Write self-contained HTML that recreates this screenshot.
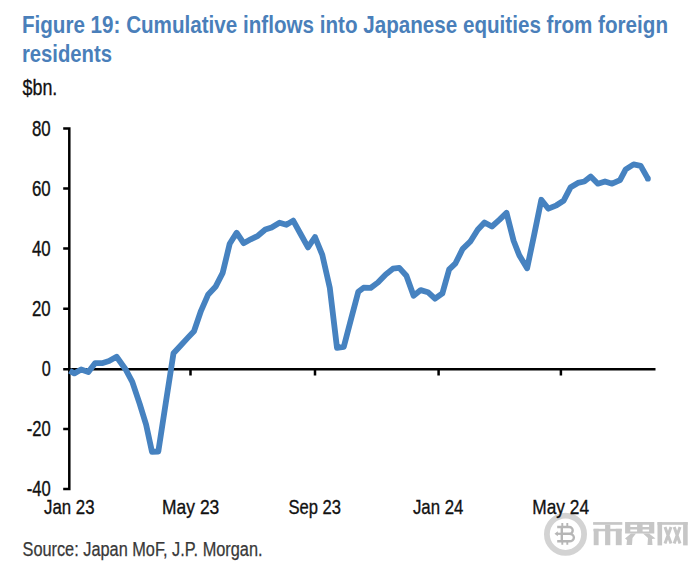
<!DOCTYPE html>
<html><head><meta charset="utf-8"><style>
html,body{margin:0;padding:0;background:#fff;}
body{width:700px;height:569px;overflow:hidden;}
svg{display:block;}
text{font-family:"Liberation Sans",sans-serif;}
</style></head><body>
<svg width="700" height="569" viewBox="0 0 700 569">
<rect width="700" height="569" fill="#fff"/>
<!-- watermark -->
<g opacity="1">
<circle cx="565.5" cy="534.2" r="18.6" fill="none" stroke="#d3d3d3" stroke-width="5.8"/>
<g fill="none" stroke="#b6b6b6">
<path stroke-width="2.4" d="M557.2,527 H569.3 A3.4,3.4 0 0 1 569.3,533.8 H561.5 M569.3,533.8 A4.6,3.75 0 0 1 569.3,541.3 H557.2 M561.8,527 V541.3"/>
<path stroke-width="1.9" d="M562.3,523 V527 M567.3,523 V527 M562.3,541.3 V544.8 M567.3,541.3 V544.8"/>
<path stroke-width="2.2" d="M556.5,533.8 H562"/>
</g>
<path d="M554.5,533.8 L557.8,531.3 V536.3 Z" fill="#b6b6b6"/>
<g fill="#c6c6c6">
<rect x="593.1" y="522.1" width="29.2" height="2.7"/>
<rect x="593.5" y="528.8" width="28.2" height="2.5"/>
<rect x="593.7" y="528.8" width="4.9" height="16.4"/>
<rect x="605.1" y="524.8" width="5.2" height="20.4"/>
<rect x="615.8" y="528.8" width="5.9" height="16.4"/>
<path d="M625.1,522.1 H654.3 V533.5 H625.1 Z M630.3,524.8 V527 H637.1 V524.8 Z M642.6,524.8 V527 H649.1 V524.8 Z M630.3,529.5 V531.6 H637.1 V529.5 Z M642.6,529.5 V531.6 H649.1 V529.5 Z" fill-rule="evenodd"/>
<path d="M631,533.5 L625,538.5 L627,540 L626.5,545 L632,545 L632.5,538 L636,533.5 Z"/>
<path d="M643,533.5 L648,538 L647.5,545 L652.5,545 L652,539 L655.5,538.5 L649,533.5 Z"/>
<rect x="657.5" y="522.1" width="4.6" height="23.3"/>
<rect x="657.5" y="522.1" width="30.2" height="2.7"/>
<rect x="683.1" y="522.1" width="4.6" height="23.3"/>
</g>
<g stroke="#c6c6c6" stroke-width="3">
<path d="M665,527 L671,543.5 M671,527 L665,543.5 M674.2,527 L680,543.5 M680,527 L674.2,543.5"/>
</g>
</g>
<g fill="#4A7FBA" font-weight="bold" font-size="23.4">
<text x="21.9" y="32.6" textLength="646.1" lengthAdjust="spacingAndGlyphs">Figure 19: Cumulative inflows into Japanese equities from foreign</text>
<text x="21.9" y="61.6" textLength="90.1" lengthAdjust="spacingAndGlyphs">residents</text>
</g>
<text x="22.5" y="94.6" font-size="21.5" fill="#111" stroke="#111" stroke-width="0.3" textLength="34.8" lengthAdjust="spacingAndGlyphs">$bn.</text>
<g fill="#111" font-size="21.6" text-anchor="end" stroke="#111" stroke-width="0.35" transform="translate(0.7,0)">
<text x="50" y="135.9" textLength="18.7" lengthAdjust="spacingAndGlyphs">80</text>
<text x="50" y="195.9" textLength="18.7" lengthAdjust="spacingAndGlyphs">60</text>
<text x="50" y="255.9" textLength="18.7" lengthAdjust="spacingAndGlyphs">40</text>
<text x="50" y="315.9" textLength="18.7" lengthAdjust="spacingAndGlyphs">20</text>
<text x="50" y="376.4" textLength="9" lengthAdjust="spacingAndGlyphs">0</text>
<text x="50" y="436.4" textLength="24" lengthAdjust="spacingAndGlyphs">-20</text>
<text x="50" y="496.4" textLength="24" lengthAdjust="spacingAndGlyphs">-40</text>
</g>
<g fill="#111" font-size="21" text-anchor="middle" stroke="#111" stroke-width="0.35">
<text x="69.3" y="514.3" textLength="50.5" lengthAdjust="spacingAndGlyphs">Jan 23</text>
<text x="190.7" y="514.3" textLength="57.2" lengthAdjust="spacingAndGlyphs">May 23</text>
<text x="314.7" y="514.3" textLength="52.5" lengthAdjust="spacingAndGlyphs">Sep 23</text>
<text x="438.2" y="514.3" textLength="50.5" lengthAdjust="spacingAndGlyphs">Jan 24</text>
<text x="560.7" y="514.3" textLength="56.8" lengthAdjust="spacingAndGlyphs">May 24</text>
</g>
<text x="22.5" y="556" font-size="19.5" fill="#383838" stroke="#383838" stroke-width="0.25" textLength="240" lengthAdjust="spacingAndGlyphs">Source: Japan MoF, J.P. Morgan.</text>
<g stroke="#000" stroke-width="2.5" fill="none">
<path d="M63.2,128.4 H69.3 V489 H63.2"/>
<path d="M63.2,188.4 H69.3 M63.2,248.6 H69.3 M63.2,308.8 H69.3 M63.2,369.2 H69.3 M63.2,429 H69.3"/>
<path d="M69.3,369.2 H655.5"/>
<path d="M190.5,369.2 V375.5 M315,369.2 V375.5 M438.6,369.2 V375.5 M560.9,369.2 V375.5"/>
</g>
<path d="M69.6,370.8 L74.3,373.4 L81.1,369.4 L88.4,372.0 L95.2,363.1 L102.0,363.2 L109.0,361.0 L116.6,356.7 L125.5,369.2 L132.3,381.8 L139.7,403.8 L146.1,424.6 L152.0,451.8 L158.3,451.5 L165.8,402.8 L173.5,353.3 L180.7,345.5 L187.7,337.9 L194.0,331.2 L201.0,310.8 L208.0,294.8 L215.5,286.8 L222.7,272.8 L229.7,243.8 L236.6,232.7 L243.6,243.2 L250.7,239.3 L257.9,235.8 L265.3,229.5 L271.6,227.4 L279.5,222.7 L286.4,224.8 L293.2,220.6 L300.6,234.0 L308.0,247.4 L315.0,237.0 L322.3,254.8 L329.8,287.8 L337.0,347.8 L343.8,346.8 L351.0,319.3 L358.3,291.8 L363.6,287.7 L370.7,287.9 L377.9,282.5 L385.7,274.4 L392.9,268.7 L399.3,267.9 L406.4,275.8 L413.6,295.8 L420.7,290.1 L427.9,292.2 L435.0,298.7 L442.4,293.4 L449.2,269.3 L455.5,263.3 L462.7,248.8 L470.2,241.7 L477.7,229.8 L484.5,222.5 L491.9,226.5 L499.3,219.8 L506.5,212.8 L513.6,240.8 L519.3,255.3 L527.1,268.3 L534.2,234.6 L541.3,199.8 L548.4,208.7 L556.5,205.3 L563.5,200.8 L570.7,187.2 L577.9,182.9 L584.3,181.5 L590.7,176.5 L597.9,183.7 L605.0,181.5 L612.1,183.7 L620.0,180.1 L625.7,169.4 L633.6,164.4 L640.7,165.8 L647.9,178.7" fill="none" stroke="#4682C0" stroke-width="5.8" stroke-linejoin="round" stroke-linecap="butt"/>
<circle cx="647.9" cy="178.7" r="2.9" fill="#4682C0"/>
</svg>
</body></html>
